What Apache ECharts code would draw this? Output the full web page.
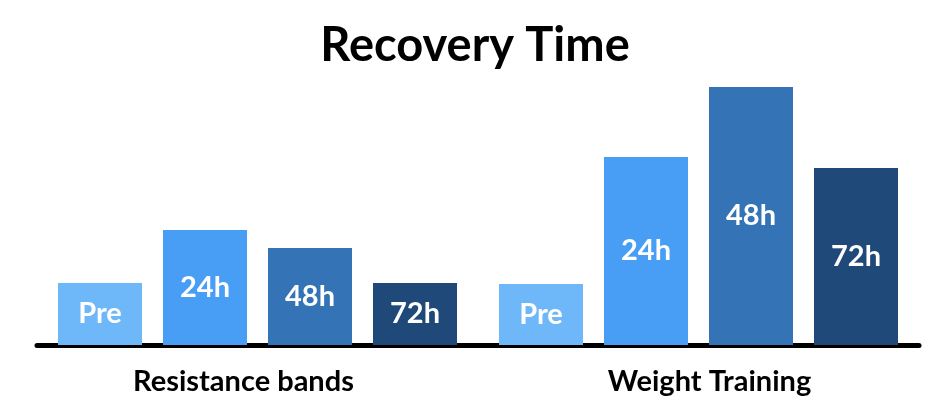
<!DOCTYPE html>
<html><head><meta charset="utf-8">
<script src="https://cdn.jsdelivr.net/npm/echarts@6/dist/echarts.min.js"></script>
<style>html,body{margin:0;padding:0;background:#fff}#c{width:950px;height:410px}</style>
</head><body><div id="c"></div>
<script>
const categories = ["Resistance bands", "Weight Training"];
const seriesNames = ["Pre", "24h", "48h", "72h"];
const preValues = [62, 61];
const h24Values = [115, 188];
const h48Values = [97, 258];
const h72Values = [62, 177];
const colors = ["#6EB7F8", "#489EF5", "#3474B6", "#1E4978"];
const allValues = [preValues, h24Values, h48Values, h72Values];

const chart = echarts.init(document.getElementById('c'));
const font = "Lato, 'Noto Sans', sans-serif";
chart.setOption({
  animation: false,
  title: {
    text: "Recovery Time", left: 'center', top: 17,
    textStyle: {fontFamily: font, fontSize: 47, fontWeight: 'bold', color: '#000'}
  },
  grid: {left: 37, right: 31, top: 45, bottom: 65},
  xAxis: {
    type: 'category', data: categories,
    axisLine: {lineStyle: {color: '#000', width: 5}},
    axisTick: {show: false},
    axisLabel: {
      margin: 22,
      formatter: (v, i) => (i === 0 ? '{a|' : '{b|') + v + '}',
      rich: {
        a: {fontFamily: font, fontSize: 29, fontWeight: 'bold', color: '#000', padding: [0, 28, 0, 0]},
        b: {fontFamily: font, fontSize: 29, fontWeight: 'bold', color: '#000', padding: [0, 0, 0, 22]}
      }
    }
  },
  yAxis: {type: 'value', min: 0, max: 300, show: false, splitLine: {show: false}},
  series: seriesNames.map((n, i) => ({
    name: n, type: 'bar', data: allValues[i],
    barWidth: 84, barGap: '25%',
    itemStyle: {color: colors[i]},
    label: {show: true, position: 'inside', formatter: n,
      fontFamily: font, fontSize: 29, fontWeight: 'bold', color: '#fff'}
  }))
});
</script></body></html>
